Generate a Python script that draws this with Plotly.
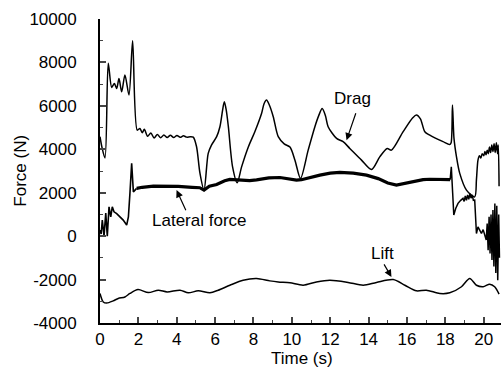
import plotly.graph_objects as go

# ---- data ----
drag_t = [0, 0.1, 0.26, 0.43, 0.61, 0.75, 0.87, 0.99, 1.13, 1.3, 1.51, 1.7, 1.94, 2.08, 2.2, 2.31,
          2.48, 2.65, 2.82, 2.99, 3.16, 3.33, 3.5, 3.67, 3.84, 4.01, 4.18, 4.35, 4.52, 4.7, 4.86,
          5.03, 5.21, 5.42, 5.64, 5.81, 6.08, 6.25, 6.39, 6.48, 6.58, 6.69, 6.91, 7.15, 7.38, 7.73,
          8.07, 8.42, 8.55, 8.68, 8.82, 9.03, 9.29, 9.6, 9.9, 10.16, 10.45, 10.85, 11.2, 11.4, 11.58,
          11.75, 11.89, 12.33, 12.67, 13.02, 13.63, 14.15, 14.58, 14.97, 15.19, 15.8, 16.3, 16.49,
          16.7, 16.93, 17.19, 17.88, 18.23, 18.3, 18.37, 18.45, 18.58, 18.75, 19.1, 19.53, 19.62,
          19.7, 19.78, 19.85, 19.92, 20.0, 20.06, 20.12, 20.18, 20.24, 20.3, 20.36, 20.42, 20.48,
          20.54, 20.6, 20.66, 20.72, 20.76, 20.8]
drag_f = [4580, 4100, 3600, 7960, 6850, 7030, 6800, 7260, 6650, 7420, 6500, 9000, 4880, 4960, 4760, 4920,
          4600, 4750, 4520, 4680, 4530, 4660, 4540, 4650, 4540, 4640, 4550, 4620, 4560, 4580, 4560,
          4130, 2900, 2120, 3810, 4190, 4580, 5040, 5800, 6190, 5800, 5040, 3190, 2460, 3190, 4110,
          4810, 5650, 6100, 6270, 6050, 5500, 4580, 4250, 4100, 3500, 2660, 3960, 5040, 5550, 5880,
          5550, 5040, 4500, 4350, 4040, 3500, 3070, 3650, 4040, 3960, 4810, 5450, 5580,
          5400, 4810, 4650, 4350, 4220, 4300, 6040, 4500, 3650, 2890, 2120, 1810, 2600,
          3500, 3700, 3600, 3800, 3700, 3900, 3750, 3950, 3800, 4100, 3850, 4200, 3900,
          4250, 3850, 4300, 3800, 4200, 2300]

lat_t = [0, 0.06, 0.12, 0.21, 0.3, 0.38, 0.47, 0.56, 0.64, 0.73, 0.87, 1.04, 1.21, 1.39, 1.48,
         1.56, 1.65, 1.74, 1.91, 2.2, 2.78, 3.4, 4.08, 4.8, 5.2, 5.42, 5.7, 6.08, 6.5, 6.77, 7.3,
         7.8, 8.16, 8.8, 9.38, 9.9, 10.24, 10.5, 11.0, 11.46, 12.0, 12.5, 13.2, 13.89, 14.5, 15.0,
         15.45, 16.0, 16.49, 16.84, 17.19, 17.7, 18.14, 18.25, 18.31, 18.38, 18.44, 18.55, 18.66,
         18.8, 18.92, 18.98, 19.04, 19.1, 19.16, 19.22, 19.28, 19.34, 19.4, 19.46, 19.53, 19.62,
         19.7, 19.79, 19.88, 19.97, 20.05, 20.13, 20.18, 20.23, 20.28, 20.33, 20.38, 20.43, 20.48,
         20.53, 20.58, 20.63, 20.68, 20.73, 20.78, 20.82]
lat_f = [280, 100, 740, 0, 1060, 0, 1350, 890, 1350, 1120, 1040, 890, 740, 510, 890,
         1970, 3350, 2040, 2200, 2250, 2300, 2300, 2290, 2250, 2230, 2120, 2300, 2380, 2550, 2610, 2580,
         2560, 2590, 2680, 2700, 2620, 2580, 2600, 2720, 2810, 2900, 2940, 2900, 2810, 2650, 2450,
         2350, 2450, 2570, 2600, 2620, 2600, 2580, 2600, 3190, 2000, 970, 1300, 1510,
         1650, 1740, 1600, 1850, 1650, 1900, 1700, 1950, 1750, 1900, 1650, 1660, 120,
         430, 280, 120, 300, 50, -180, 580, -650, 890, -800, 1000, -1100, 1200,
         -1400, 1500, -1700, 1400, -2030, 1000, -1000]

lift_t = [0, 0.17, 0.35, 0.69, 0.95, 1.3, 1.56, 1.98, 2.52, 3.04, 3.5, 4.17, 4.6, 5.12, 5.73,
          6.16, 6.77, 7.46, 8.16, 8.85, 9.29, 9.9, 10.59, 11.28, 11.98, 12.93, 13.72, 14.41, 15.28,
          15.89, 16.49, 17.01, 17.71, 18.23, 18.84, 19.27, 19.62, 19.97, 20.31, 20.57, 20.8]
lift_f = [-2640, -3030, -3080, -2980, -2870, -2800, -2640, -2460, -2600, -2490, -2570, -2490, -2610, -2520, -2610,
          -2490, -2260, -2030, -1950, -2060, -2110, -2150, -2260, -2110, -2030, -2130, -2260, -2130, -2000,
          -2260, -2520, -2490, -2640, -2610, -2330, -1950, -2260, -2330, -2210, -2330, -2670]

x_ticks = [0, 2, 4, 6, 8, 10, 12, 14, 16, 18, 20]
y_ticks = [-4000, -2000, 0, 2000, 4000, 6000, 8000, 10000]
y_ticktext = ["-4000", "-2000", "0", "2000", "4000", "6000", "8000", "10000"]

FONT = "Liberation Sans, Arial, sans-serif"

fig = go.Figure()
fig.add_trace(go.Scatter(x=drag_t, y=drag_f, mode="lines", name="Drag",
                         line=dict(color="black", width=1.5, shape="spline", smoothing=0.8)))
# lateral force: noisy start / steady middle (thick) / noisy end
i1 = lat_t.index(1.91)
i2 = lat_t.index(18.25)
fig.add_trace(go.Scatter(x=lat_t[:i1 + 1], y=lat_f[:i1 + 1], mode="lines", name="Lateral force",
                         line=dict(color="black", width=1.6)))
fig.add_trace(go.Scatter(x=lat_t[i1:i2 + 1], y=lat_f[i1:i2 + 1], mode="lines", name="Lateral force",
                         line=dict(color="black", width=3.2)))
fig.add_trace(go.Scatter(x=lat_t[i2:], y=lat_f[i2:], mode="lines", name="Lateral force",
                         line=dict(color="black", width=1.5)))
fig.add_trace(go.Scatter(x=lift_t, y=lift_f, mode="lines", name="Lift",
                         line=dict(color="black", width=1.5, shape="spline", smoothing=0.8)))

# arrows
arrows = [(12.85, 4420, 13.36, 5730), (3.99, 2120, 4.51, 1120), (15.19, -1880, 14.76, -1230)]
for hx, hy, tx, ty in arrows:
    fig.add_annotation(x=hx, y=hy, ax=tx, ay=ty, xref="x", yref="y", axref="x", ayref="y",
                       text="", showarrow=True, arrowhead=2, arrowsize=1.2, arrowwidth=1.2,
                       arrowcolor="black")
labels = [("Drag", 13.18, 6360), ("Lateral force", 5.16, 740), ("Lift", 14.74, -780)]
for txt, lx, ly in labels:
    fig.add_annotation(x=lx, y=ly, xref="x", yref="y", text=txt, showarrow=False,
                       font=dict(family=FONT, size=17, color="black"))

# axis titles (plot area spans 19..323 px vertically)
fig.add_annotation(x=0.503, y=-0.155, xref="paper", yref="paper", text="Time (s)", showarrow=False,
                   font=dict(family=FONT, size=17, color="black"))
fig.add_annotation(x=-0.229, y=0.5, xref="paper", yref="paper", text="Force (N)", showarrow=False,
                   textangle=-90, font=dict(family=FONT, size=17, color="black"))

fig.update_layout(
    width=502, height=382, autosize=False,
    margin=dict(l=100, r=1, t=19, b=59, autoexpand=False),
    paper_bgcolor="white", plot_bgcolor="white",
    showlegend=False,
    font=dict(family=FONT, size=17, color="black"),
)
fig.update_xaxes(range=[0, 20.9], tickvals=x_ticks, ticks="inside", ticklen=6, tickwidth=1.5,
                 showline=True, linecolor="black", linewidth=1.8, showgrid=False, zeroline=False,
                 minor=dict(dtick=1, tick0=0, ticks="inside", ticklen=3, tickwidth=1.2, showgrid=False),
                 automargin=False, tickfont=dict(size=17))
fig.update_yaxes(range=[-4000, 10000], tickvals=y_ticks, ticktext=y_ticktext, ticks="inside",
                 ticklen=6, tickwidth=1.5,
                 showline=True, linecolor="black", linewidth=1.8, showgrid=False, zeroline=False,
                 minor=dict(dtick=1000, tick0=0, ticks="inside", ticklen=3, tickwidth=1.2, showgrid=False),
                 automargin=False, ticklabelstandoff=18, tickfont=dict(size=17))

fig.write_html("out.html", config={"responsive": False})
